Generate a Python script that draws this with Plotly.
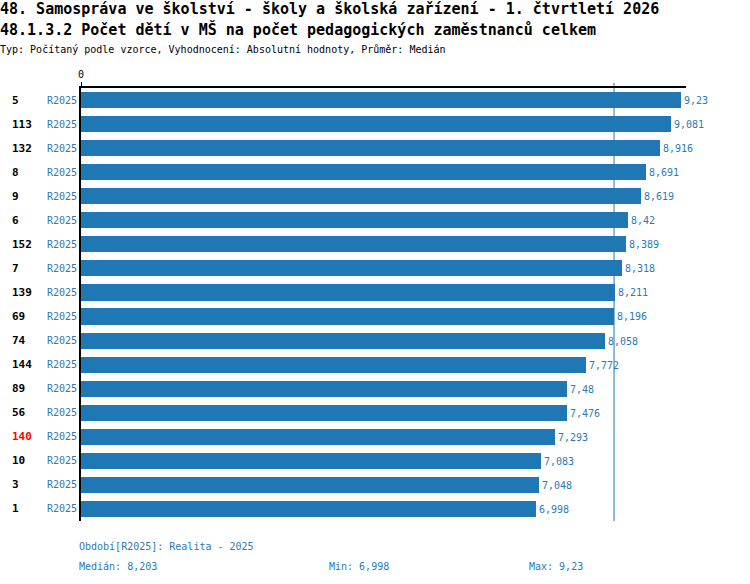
import plotly.graph_objects as go

# data
codes = ["5", "113", "132", "8", "9", "6", "152", "7", "139", "69", "74", "144",
         "89", "56", "140", "10", "3", "1"]
values = [9.23, 9.081, 8.916, 8.691, 8.619, 8.42, 8.389, 8.318, 8.211, 8.196,
          8.058, 7.772, 7.48, 7.476, 7.293, 7.083, 7.048, 6.998]
period = "R2025"
highlight = "140"
median = 8.203

mono = "DejaVu Sans Mono"
blue = "#1f77b4"
txtblue = "#2a7ab8"

W, H = 750, 584
L, R, T, B = 81, 64, 88, 63
PW, PH = W - L - R, H - T - B


def cz(v):
    return ("%g" % v).replace(".", ",")


ypos = list(range(len(values)))

fig = go.Figure()
fig.add_trace(go.Bar(
    x=values, y=ypos, orientation="h",
    marker=dict(color=blue, line=dict(width=0)),
    width=0.67,
    text=[cz(v) for v in values], textposition="outside",
    textfont=dict(family=mono, size=10, color=txtblue),
    cliponaxis=False, hoverinfo="skip",
))

# median line, behind the bars
fig.add_shape(type="line", x0=median, x1=median, y0=0, y1=1.012,
              xref="x", yref="paper", layer="below", line=dict(color=blue, width=1))

for i, c in enumerate(codes):
    fig.add_annotation(x=(10 - L) / PW, xref="paper", y=i, yref="y", text="<b>%s</b>" % c,
                       showarrow=False, xanchor="left",
                       font=dict(family=mono, size=11,
                                 color="red" if c == highlight else "black"))
    fig.add_annotation(x=(79 - L) / PW, xref="paper", y=i, yref="y", text=period,
                       showarrow=False, xanchor="right",
                       font=dict(family=mono, size=10, color=txtblue))


def ptxt(x, y, t, size=10, color=txtblue, bold=False):
    fig.add_annotation(x=(x - L) / PW, y=(H - B - y) / PH, xref="paper", yref="paper",
                       text="<b>%s</b>" % t if bold else t, showarrow=False,
                       xanchor="left", yanchor="middle",
                       font=dict(family=mono, size=size, color=color))


ptxt(-2, 9, "48. Samospráva ve školství - školy a školská zařízení - 1. čtvrtletí 2026",
     size=15, color="black", bold=True)
ptxt(-2, 30, "48.1.3.2 Počet dětí v MŠ na počet pedagogických zaměstnanců celkem",
     size=15, color="black", bold=True)
ptxt(-2, 50, "Typ: Počítaný podle vzorce, Vyhodnocení: Absolutní hodnoty, Průměr: Medián",
     size=10, color="black")
ptxt(77, 546, "Období[%s]: Realita - 2025" % period)
ptxt(77, 566, "Medián: " + cz(median))
ptxt(327, 566, "Min: " + cz(min(values)))
ptxt(527, 566, "Max: " + cz(max(values)))

fig.update_layout(
    width=W, height=H, margin=dict(l=L, r=R, t=T, b=B),
    paper_bgcolor="white", plot_bgcolor="white", showlegend=False, bargap=0,
    xaxis=dict(range=[0, 9.31], side="top", showgrid=False, zeroline=False,
               showline=True, linecolor="black", linewidth=2,
               tickvals=[0], ticktext=["0"], ticks="outside", ticklen=4,
               tickcolor="black", tickfont=dict(family=mono, size=10, color="black")),
    yaxis=dict(range=[len(values) - 0.5, -0.5], showgrid=False, zeroline=False,
               showline=True, linecolor="black", linewidth=2, showticklabels=False),
)

fig.write_html("out.html", config={"displayModeBar": False},
               post_script="document.body.style.margin='0px';")
